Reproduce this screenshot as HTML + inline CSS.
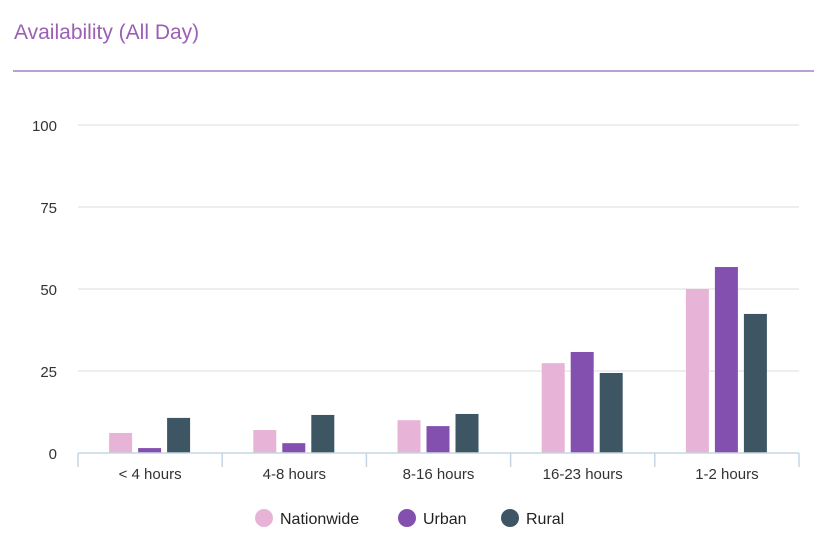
<!DOCTYPE html>
<html><head><meta charset="utf-8"><style>
body{margin:0;background:#fff;width:823px;height:550px;overflow:hidden;font-family:"Liberation Sans",sans-serif}
#title{position:absolute;left:14px;top:21px;font-size:21px;color:#9b5fb5}
#rule{position:absolute;left:13px;top:70px;width:801px;height:2px;background:#b5a3d6}
</style></head><body>
<div id="title">Availability (All Day)</div>
<div id="rule"></div>
<svg id="chart" width="823" height="550" style="position:absolute;left:0;top:0"></svg>
<script>
const categories=["< 4 hours","4-8 hours","8-16 hours","16-23 hours","1-2 hours"];
const seriesNames=["Nationwide","Urban","Rural"];
const nationwide=[6.1,7,10,27.4,50];
const urban=[1.5,3,8.2,30.8,56.7];
const rural=[10.7,11.6,11.9,24.4,42.4];
const yTicks=[0,25,50,75,100];
const colors=["#e7b4d8","#8450b0","#3e5563"];
const svg=document.getElementById('chart');
const NS="http://www.w3.org/2000/svg";
const x0=78,x1=799,y0=453,y100=125;
const y=v=>y0-(v/100)*(y0-y100);
const cw=(x1-x0)/categories.length;
function mk(t,a){const e=document.createElementNS(NS,t);for(const k in a)e.setAttribute(k,a[k]);svg.appendChild(e);return e;}
yTicks.forEach(t=>{
  if(t>0){const g=mk('line',{x1:x0,x2:x1,y1:y(t),y2:y(t),stroke:'#dcdcdc','stroke-width':1});
  
  }
  const l=mk('text',{x:57,y:y(t)+6,'text-anchor':'end','font-size':15,fill:'#333'});l.textContent=t;
  
  
});
const series=[nationwide,urban,rural];
categories.forEach((c,i)=>{
  const cx=x0+cw*(i+0.5);
  series.forEach((s,j)=>{
    const bx=cx-41+j*29;
    const r=mk('rect',{x:bx,y:y(s[i]),width:23,height:y0-y(s[i]),fill:colors[j]});
    
    
  });
  const t=mk('text',{x:cx,y:479,'text-anchor':'middle','font-size':15,fill:'#333'});t.textContent=c;
  
  
});
for(let i=0;i<=categories.length;i++){
  const tx=x0+cw*i;
  const tk=mk('line',{x1:tx,x2:tx,y1:y0,y2:467,stroke:'#c6d5e4','stroke-width':1.5});
  
  
}
const ax=mk('line',{x1:x0,x2:x1,y1:y0,y2:y0,stroke:'#c6d5e4','stroke-width':1.5});


const lx=[264,407,510];
seriesNames.forEach((n,j)=>{
  const c=mk('circle',{cx:lx[j],cy:518,r:9,fill:colors[j]});
  
  
  const t=mk('text',{x:lx[j]+16,y:524,'font-size':16,fill:'#222'});t.textContent=n;
  
  
});
</script>
</body></html>
